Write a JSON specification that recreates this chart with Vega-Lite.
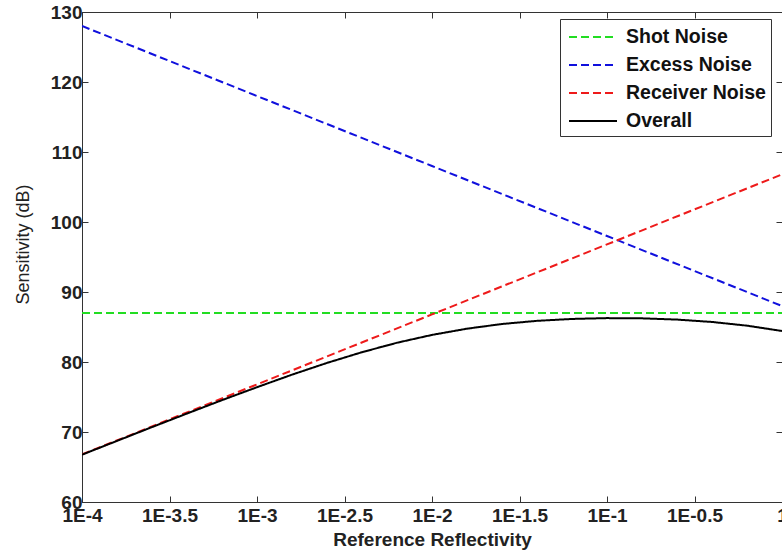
{
  "$schema": "https://vega.github.io/schema/vega-lite/v6.json",
  "width": 700,
  "height": 490,
  "autosize": {"type": "none"},
  "padding": {"left": 82, "top": 12, "right": 0, "bottom": 51},
  "background": "white",
  "config": {
    "view": {"stroke": "#333333", "strokeWidth": 1},
    "axis": {
      "grid": false,
      "domainColor": "#333333",
      "tickColor": "#333333",
      "labelFont": "Liberation Sans",
      "labelFontWeight": "bold",
      "labelFontSize": 19,
      "labelColor": "#222222",
      "titleFont": "Liberation Sans",
      "titleColor": "#222222",
      "titleFontWeight": "normal"
    },
    "legend": {
      "orient": "none",
      "legendX": 478,
      "legendY": 7,
      "symbolType": "M-0.75,0H3.25",
      "symbolSize": 576,
      "symbolStrokeWidth": 2,
      "labelFont": "Liberation Sans",
      "labelFontWeight": "bold",
      "labelFontSize": 19.5,
      "labelColor": "#111111",
      "labelOffset": 35,
      "rowPadding": 5,
      "padding": 5,
      "strokeColor": "#333333",
      "fillColor": "white",
      "cornerRadius": 0
    }
  },
  "datasets": {
    "lines": [
      {"series": "Shot Noise", "logR": -4, "dB": 87},
      {"series": "Shot Noise", "logR": 0, "dB": 87},
      {"series": "Excess Noise", "logR": -4, "dB": 128},
      {"series": "Excess Noise", "logR": -3, "dB": 118},
      {"series": "Excess Noise", "logR": -2, "dB": 108},
      {"series": "Excess Noise", "logR": -1, "dB": 98},
      {"series": "Excess Noise", "logR": 0, "dB": 88},
      {"series": "Receiver Noise", "logR": -4, "dB": 66.8},
      {"series": "Receiver Noise", "logR": -3, "dB": 76.8},
      {"series": "Receiver Noise", "logR": -2, "dB": 86.8},
      {"series": "Receiver Noise", "logR": -1, "dB": 96.8},
      {"series": "Receiver Noise", "logR": 0, "dB": 106.8},
      {"series": "Overall", "logR": -4, "dB": 66.76},
      {"series": "Overall", "logR": -3.8, "dB": 68.73},
      {"series": "Overall", "logR": -3.6, "dB": 70.7},
      {"series": "Overall", "logR": -3.4, "dB": 72.64},
      {"series": "Overall", "logR": -3.2, "dB": 74.55},
      {"series": "Overall", "logR": -3.0, "dB": 76.4},
      {"series": "Overall", "logR": -2.8, "dB": 78.19},
      {"series": "Overall", "logR": -2.6, "dB": 79.87},
      {"series": "Overall", "logR": -2.4, "dB": 81.4},
      {"series": "Overall", "logR": -2.2, "dB": 82.75},
      {"series": "Overall", "logR": -2.0, "dB": 83.87},
      {"series": "Overall", "logR": -1.8, "dB": 84.76},
      {"series": "Overall", "logR": -1.6, "dB": 85.43},
      {"series": "Overall", "logR": -1.4, "dB": 85.88},
      {"series": "Overall", "logR": -1.2, "dB": 86.15},
      {"series": "Overall", "logR": -1.0, "dB": 86.27},
      {"series": "Overall", "logR": -0.8, "dB": 86.24},
      {"series": "Overall", "logR": -0.6, "dB": 86.06},
      {"series": "Overall", "logR": -0.4, "dB": 85.72},
      {"series": "Overall", "logR": -0.2, "dB": 85.19},
      {"series": "Overall", "logR": 0, "dB": 84.43}
    ]
  },
  "data": {"name": "lines"},
  "layer": [
    {
      "mark": {"type": "line", "strokeWidth": 2, "clip": true},
      "encoding": {
        "x": {
          "field": "logR",
          "type": "quantitative",
          "scale": {"domain": [-4, 0], "nice": false, "zero": false},
          "axis": {
            "values": [-4, -3.5, -3, -2.5, -2, -1.5, -1, -0.5, 0],
            "labelExpr": "datum.value == 0 ? '1' : '1E' + datum.value",
            "title": "Reference Reflectivity",
            "titleFontSize": 19,
            "titleFontWeight": "bold",
            "titlePadding": 5,
            "tickSize": -6,
            "labelPadding": 10,
            "labelFlush": false,
            "labelOverlap": false
          }
        },
        "y": {
          "field": "dB",
          "type": "quantitative",
          "scale": {"domain": [60, 130], "nice": false, "zero": false},
          "axis": {
            "values": [60, 70, 80, 90, 100, 110, 120, 130],
            "title": "Sensitivity (dB)",
            "titleFontSize": 18,
            "titlePadding": 18,
            "titleY": 232,
            "tickSize": -6,
            "labelPadding": 6,
            "labelOverlap": false
          }
        },
        "color": {
          "field": "series",
          "type": "nominal",
          "scale": {
            "domain": ["Shot Noise", "Excess Noise", "Receiver Noise", "Overall"],
            "range": ["#22dd22", "#1010dd", "#ee1a1a", "#000000"]
          },
          "legend": {"title": null}
        },
        "strokeDash": {
          "field": "series",
          "type": "nominal",
          "scale": {
            "domain": ["Shot Noise", "Excess Noise", "Receiver Noise", "Overall"],
            "range": [[8, 4], [8, 4], [8, 4], [1, 0]]
          },
          "legend": {"title": null}
        }
      }
    },
    {
      "mark": {"type": "line", "opacity": 0},
      "encoding": {
        "x": {
          "field": "logR",
          "type": "quantitative",
          "axis": {
            "orient": "top",
            "values": [-4, -3.5, -3, -2.5, -2, -1.5, -1, -0.5, 0],
            "labels": false,
            "title": null,
            "tickSize": -6
          }
        },
        "y": {
          "field": "dB",
          "type": "quantitative",
          "axis": {
            "orient": "right",
            "values": [60, 70, 80, 90, 100, 110, 120, 130],
            "labels": false,
            "title": null,
            "tickSize": -6
          }
        },
        "detail": {"field": "series"}
      }
    }
  ],
  "resolve": {"axis": {"x": "independent", "y": "independent"}}
}
